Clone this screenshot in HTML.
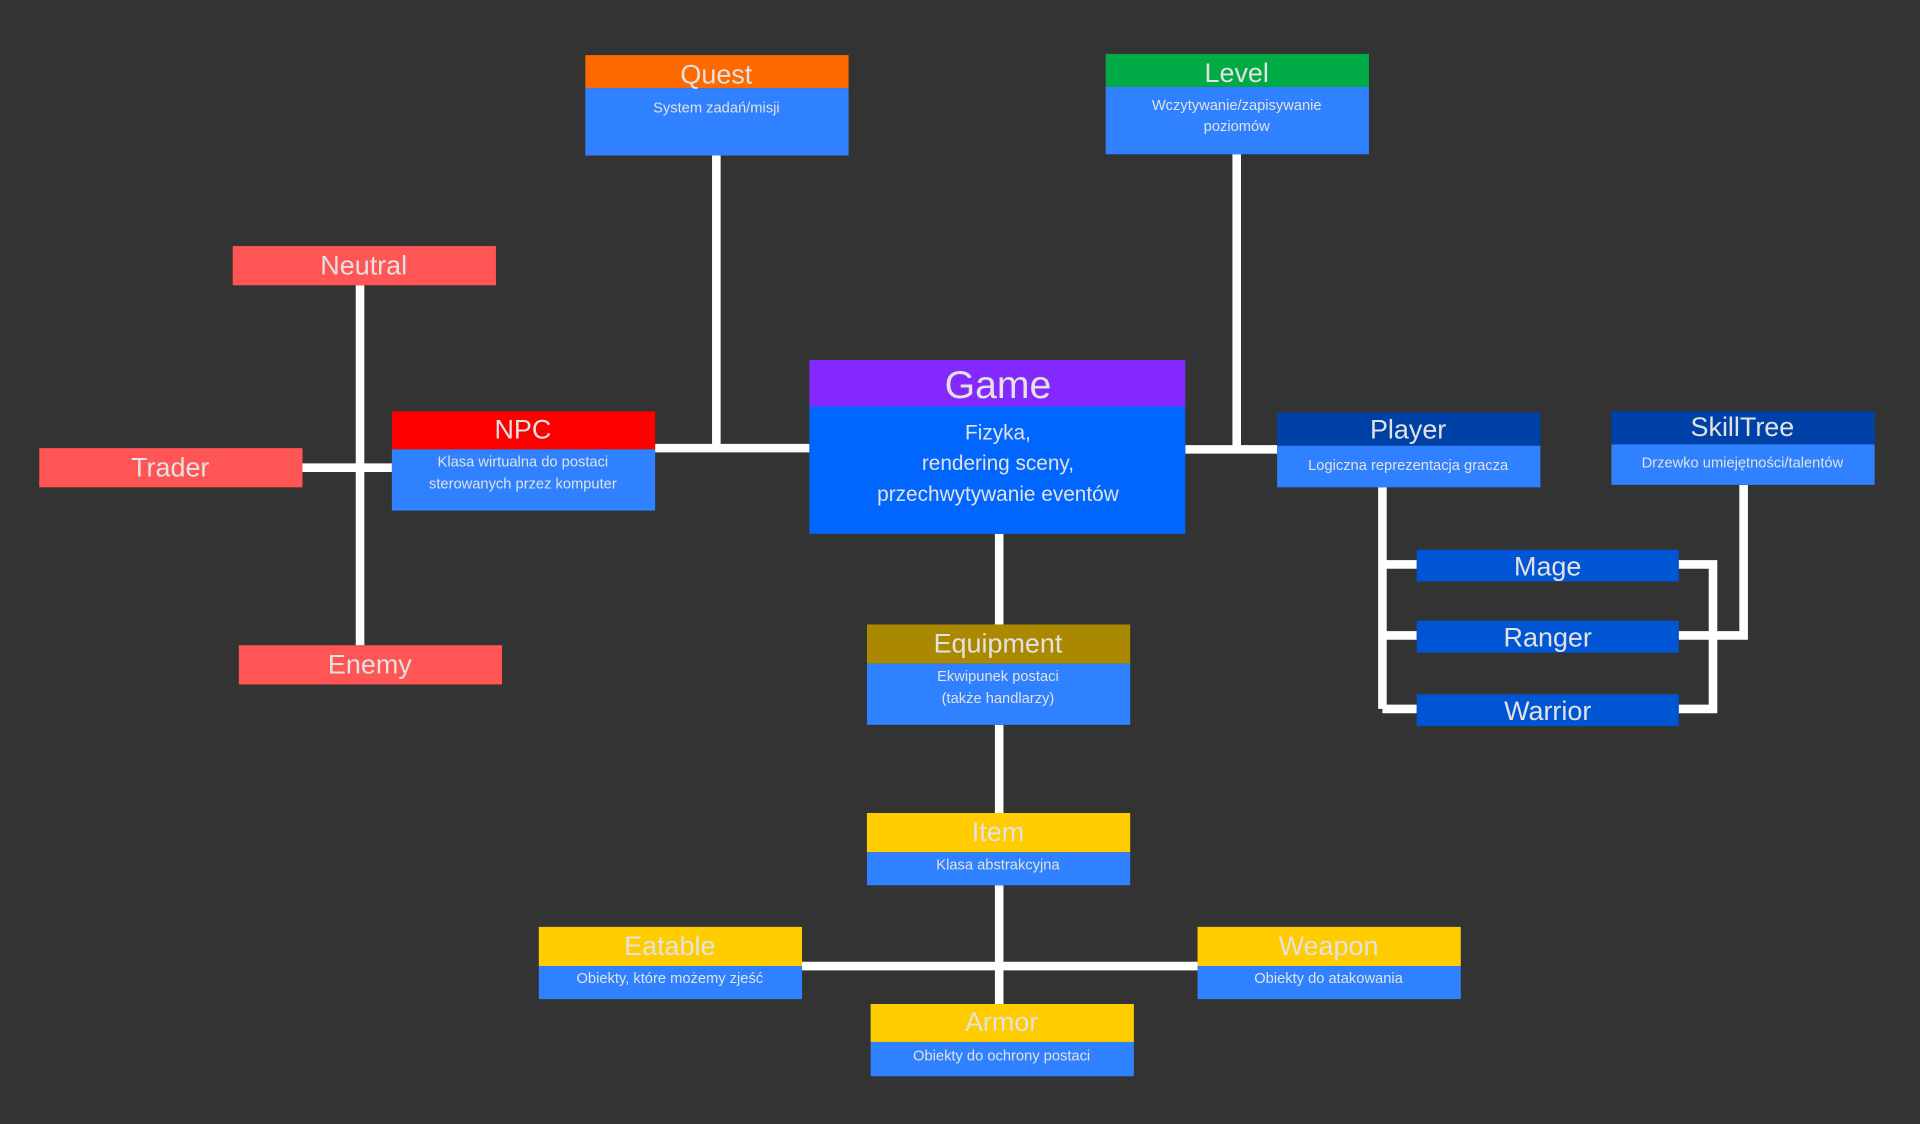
<!DOCTYPE html>
<html><head><meta charset="utf-8"><style>
html,body{margin:0;padding:0;background:#333333;}
svg{display:block;}
text{font-family:"Liberation Sans",sans-serif;fill:#e2e2e2;text-anchor:middle;}
.t{font-size:22px;}
.s{font-size:12px;}
</style></head><body>
<svg width="1920" height="1124" viewBox="0 0 1568 918" xmlns="http://www.w3.org/2000/svg">
<rect width="1568" height="918" fill="#333333"/>
<g stroke="#ffffff" stroke-width="7" fill="none">
<path d="M585 127V366M535 366H661"/>
<path d="M1010 126V367M968 367H1043"/>
<path d="M294 233V527M247 382H320"/>
<path d="M816 436V510M816 592V664M816 723V820M655 789H978"/>
<path d="M1129 398V579M1129 461H1157M1129 519H1157M1129 579H1157"/>
<path d="M1371 461H1399V579H1371M1371 519H1424V396"/>
</g>
<!-- Quest -->
<rect x="478" y="45" width="215" height="27" fill="#ff6a00"/><rect x="478" y="72" width="215" height="55" fill="#2f81ff"/>
<text x="585" y="68" class="t">Quest</text><text x="585" y="92" class="s">System zadań/misji</text>
<!-- Level -->
<rect x="903" y="44" width="215" height="27" fill="#00aa44"/><rect x="903" y="71" width="215" height="55" fill="#2f81ff"/>
<text x="1010" y="67" class="t">Level</text><text x="1010" y="90" class="s">Wczytywanie/zapisywanie</text><text x="1010" y="107" class="s">poziomów</text>
<!-- Neutral/Trader/Enemy -->
<rect x="190" y="201" width="215" height="32" fill="#ff5555"/><text x="297" y="224" class="t">Neutral</text>
<rect x="32" y="366" width="215" height="32" fill="#ff5555"/><text x="139" y="389" class="t">Trader</text>
<rect x="195" y="527" width="215" height="32" fill="#ff5555"/><text x="302" y="550" class="t">Enemy</text>
<!-- NPC -->
<rect x="320" y="336" width="215" height="31" fill="#ff0000"/><rect x="320" y="367" width="215" height="50" fill="#2f81ff"/>
<text x="427" y="358" class="t">NPC</text><text x="427" y="381" class="s">Klasa wirtualna do postaci</text><text x="427" y="399" class="s">sterowanych przez komputer</text>
<!-- Game -->
<rect x="661" y="294" width="307" height="38" fill="#8329ff"/><rect x="661" y="332" width="307" height="104" fill="#0066ff"/>
<text x="815" y="325" style="font-size:32px">Game</text>
<text x="815" y="359" style="font-size:17px">Fizyka,</text>
<text x="815" y="384" style="font-size:17px">rendering sceny,</text>
<text x="815" y="409" style="font-size:17px">przechwytywanie eventów</text>
<!-- Player -->
<rect x="1043" y="337" width="215" height="27" fill="#0041a8"/><rect x="1043" y="364" width="215" height="34" fill="#2f81ff"/>
<text x="1150" y="358" class="t">Player</text><text x="1150" y="384" class="s">Logiczna reprezentacja gracza</text>
<!-- SkillTree -->
<rect x="1316" y="336" width="215" height="27" fill="#0041a8"/><rect x="1316" y="363" width="215" height="33" fill="#2f81ff"/>
<text x="1423" y="356" class="t">SkillTree</text><text x="1423" y="382" class="s">Drzewko umiejętności/talentów</text>
<!-- Mage/Ranger/Warrior -->
<rect x="1157" y="449" width="214" height="26" fill="#0055d4"/><text x="1264" y="470" class="t">Mage</text>
<rect x="1157" y="507" width="214" height="26" fill="#0055d4"/><text x="1264" y="528" class="t">Ranger</text>
<rect x="1157" y="567" width="214" height="26" fill="#0055d4"/><text x="1264" y="588" class="t">Warrior</text>
<!-- Equipment -->
<rect x="708" y="510" width="215" height="32" fill="#aa8800"/><rect x="708" y="542" width="215" height="50" fill="#2f81ff"/>
<text x="815" y="533" class="t">Equipment</text><text x="815" y="556" class="s">Ekwipunek postaci</text><text x="815" y="574" class="s">(także handlarzy)</text>
<!-- Item -->
<rect x="708" y="664" width="215" height="32" fill="#ffcc00"/><rect x="708" y="696" width="215" height="27" fill="#2f81ff"/>
<text x="815" y="687" class="t">Item</text><text x="815" y="710" class="s">Klasa abstrakcyjna</text>
<!-- Eatable -->
<rect x="440" y="757" width="215" height="32" fill="#ffcc00"/><rect x="440" y="789" width="215" height="27" fill="#2f81ff"/>
<text x="547" y="780" class="t">Eatable</text><text x="547" y="803" class="s">Obiekty, które możemy zjeść</text>
<!-- Weapon -->
<rect x="978" y="757" width="215" height="32" fill="#ffcc00"/><rect x="978" y="789" width="215" height="27" fill="#2f81ff"/>
<text x="1085" y="780" class="t">Weapon</text><text x="1085" y="803" class="s">Obiekty do atakowania</text>
<!-- Armor -->
<rect x="711" y="820" width="215" height="31" fill="#ffcc00"/><rect x="711" y="851" width="215" height="28" fill="#2f81ff"/>
<text x="818" y="842" class="t">Armor</text><text x="818" y="866" class="s">Obiekty do ochrony postaci</text>
</svg>
</body></html>
